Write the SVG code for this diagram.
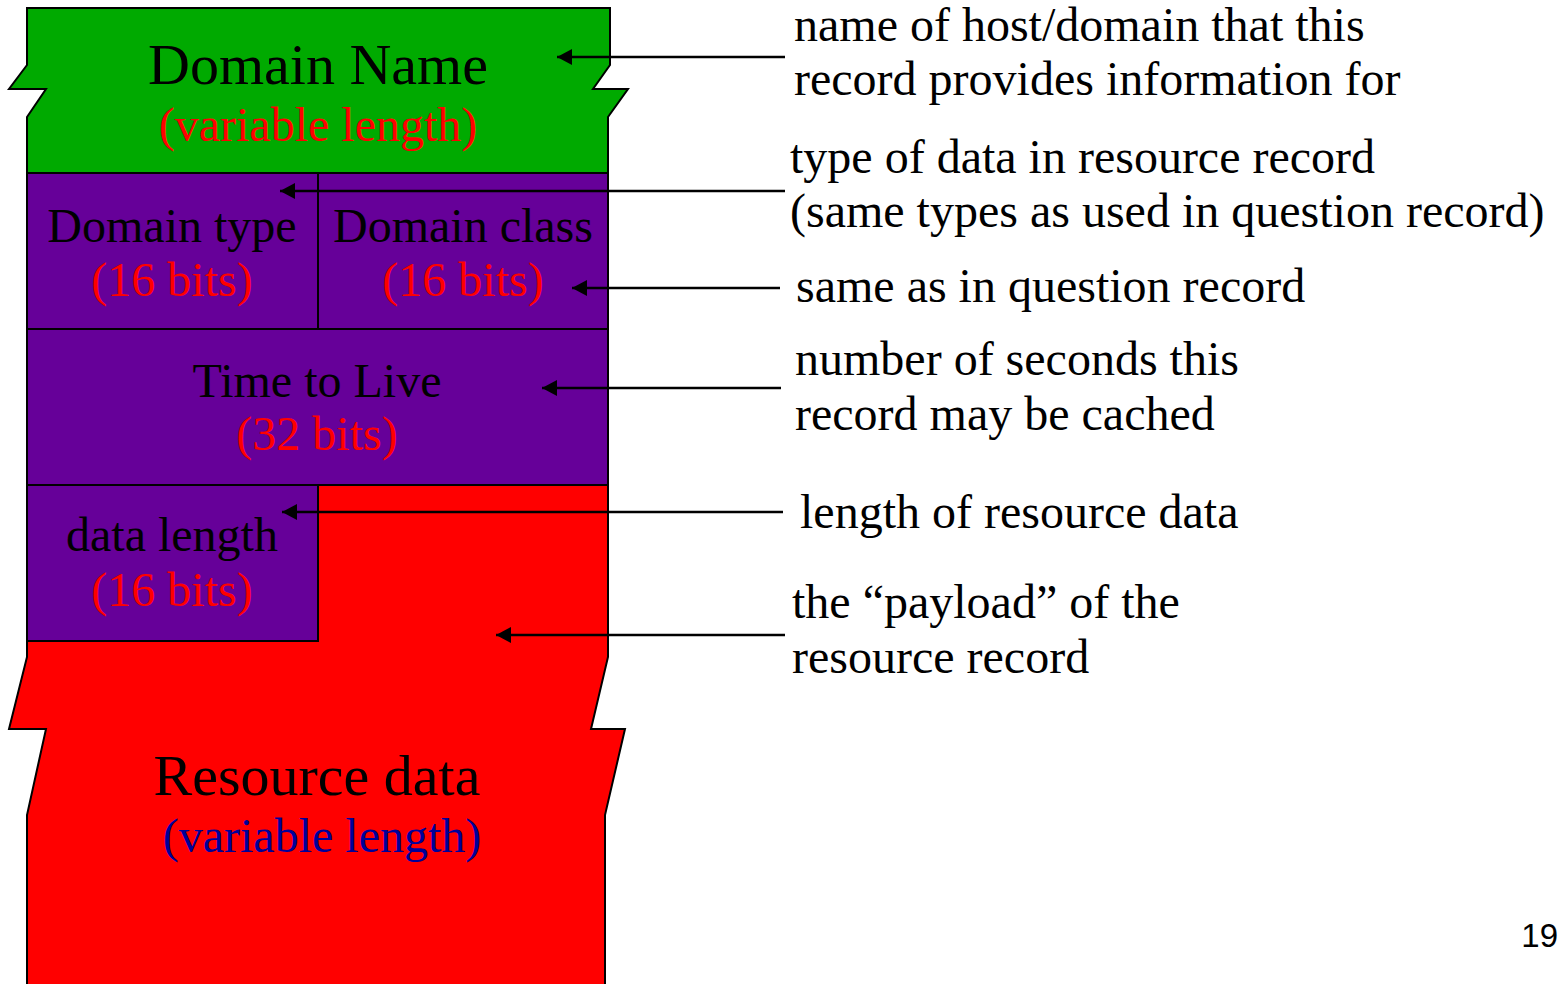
<svg xmlns="http://www.w3.org/2000/svg" width="1560" height="984" viewBox="0 0 1560 984">
  <style>
    .t { font-family: "Liberation Serif", "Times New Roman", serif; text-anchor: middle; }
    .big { font-size: 58px; fill: #000; }
    .lbl { font-size: 48px; fill: #000; }
    .sub { font-size: 48px; fill: #ff0000; }
    .note { font-family: "Liberation Serif", "Times New Roman", serif; font-size: 48px; fill: #000; }
    .shape { stroke: #000; stroke-width: 2; stroke-linejoin: miter; }
    .conn { stroke: #000; stroke-width: 2.5; fill: none; marker-end: url(#ah); }
  </style>
  <defs>
    <marker id="ah" viewBox="0 0 15 16" refX="15" refY="8" markerWidth="15" markerHeight="16" markerUnits="userSpaceOnUse" orient="auto">
      <path d="M0,0 L15,8 L0,16 z" fill="#000"/>
    </marker>
  </defs>
  <rect width="1560" height="984" fill="#fff"/>

  <g id="resource-data">
    <path class="shape" fill="#ff0000" d="M27,485 L608,485 L608,657 L591,729 L625,729 L605,815 L605,990 L27,990 L27,815 L46,729 L9,729 L27,657 Z"/>
    <text class="t big" x="317" y="795">Resource data</text>
    <text class="t lbl" x="322" y="852" fill="#000099" style="fill:#000099">(variable length)</text>
  </g>

  <g id="domain-name">
    <path class="shape" fill="#00aa00" d="M27,8 L610,8 L610,65 L593,89 L628,89 L608,117 L608,173 L27,173 L27,117 L46,89 L9,89 L27,65 Z"/>
    <text class="t big" x="318" y="84">Domain Name</text>
    <text class="t sub" x="318" y="141">(variable length)</text>
  </g>

  <g id="domain-type">
    <rect class="shape" fill="#660099" x="27" y="173" width="291" height="156"/>
    <text class="t lbl" x="172" y="242">Domain type</text>
    <text class="t sub" x="172" y="296">(16 bits)</text>
  </g>

  <g id="domain-class">
    <rect class="shape" fill="#660099" x="318" y="173" width="290" height="156"/>
    <text class="t lbl" x="463" y="242">Domain class</text>
    <text class="t sub" x="463" y="296">(16 bits)</text>
  </g>

  <g id="time-to-live">
    <rect class="shape" fill="#660099" x="27" y="329" width="581" height="156"/>
    <text class="t lbl" x="317" y="397">Time to Live</text>
    <text class="t sub" x="317" y="450">(32 bits)</text>
  </g>

  <g id="data-length">
    <rect class="shape" fill="#660099" x="27" y="485" width="291" height="156"/>
    <text class="t lbl" x="172" y="551">data length</text>
    <text class="t sub" x="172" y="606">(16 bits)</text>
  </g>

  <g id="notes">
    <text class="note" x="794" y="41">name of host/domain that this</text>
    <text class="note" x="794" y="95">record provides information for</text>
    <text class="note" x="790" y="173">type of data in resource record</text>
    <text class="note" x="790" y="227">(same types as used in question record)</text>
    <text class="note" x="796" y="302">same as in question record</text>
    <text class="note" x="795" y="375">number of seconds this</text>
    <text class="note" x="795" y="430">record may be cached</text>
    <text class="note" x="800" y="528">length of resource data</text>
    <text class="note" x="792" y="618">the “payload” of the</text>
    <text class="note" x="792" y="673">resource record</text>
  </g>

  <g id="connectors">
    <line class="conn" x1="785" y1="57" x2="557" y2="57"/>
    <line class="conn" x1="785" y1="191" x2="280" y2="191"/>
    <line class="conn" x1="780" y1="288" x2="572" y2="288"/>
    <line class="conn" x1="781" y1="388" x2="542" y2="388"/>
    <line class="conn" x1="783" y1="512" x2="282" y2="512"/>
    <line class="conn" x1="785" y1="635" x2="496" y2="635"/>
  </g>

  <text x="1558" y="947" font-family="Liberation Sans, Arial, sans-serif" font-size="33" text-anchor="end" fill="#000">19</text>
</svg>
